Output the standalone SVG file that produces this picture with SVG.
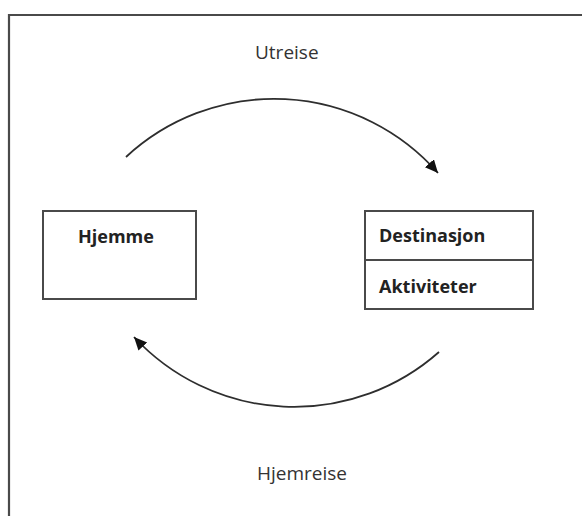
<svg xmlns="http://www.w3.org/2000/svg" width="582" height="516" viewBox="0 0 582 516">
<defs>
<marker id="arrow" markerUnits="userSpaceOnUse" markerWidth="16" markerHeight="14" refX="13" refY="6" orient="auto">
<path d="M0,0 L13,6 L0,12 Z" fill="#111"/>
</marker>
<style>
.frame{fill:none;stroke:#4a4a4a;stroke-width:2.2}
.box{fill:#fff;stroke:#4a4a4a;stroke-width:2}
.bold{font-family:"Open Sans","Liberation Sans",sans-serif;font-weight:bold;font-size:18px;fill:#222}
.lbl{font-family:"Open Sans","Liberation Sans",sans-serif;font-size:19px;fill:#333}
.conn{fill:none;stroke:#2e2e2e;stroke-width:1.8;marker-end:url(#arrow)}
</style>
</defs>
<rect width="582" height="516" fill="#fff"/>
<path class="frame" d="M9,516 L9,15 L582,15"/>
<g id="connectors">
<path id="utreise-arc" class="conn" d="M126,157 A218,218 0 0 1 438,173"/>
<path id="hjemreise-arc" class="conn" d="M439,352 A218.5,218.5 0 0 1 134,337"/>
</g>
<g id="labels">
<text class="lbl" x="255" y="59">Utreise</text>
<text class="lbl" x="257" y="480">Hjemreise</text>
</g>
<g id="hjemme">
<rect class="box" x="43" y="211" width="153" height="88"/>
<text class="bold" x="78" y="243">Hjemme</text>
</g>
<g id="destinasjon">
<rect class="box" x="365" y="211" width="168" height="98"/>
<line x1="365" y1="260" x2="533" y2="260" stroke="#4a4a4a" stroke-width="2"/>
<text class="bold" x="379" y="242">Destinasjon</text>
<text class="bold" x="379" y="293">Aktiviteter</text>
</g>
</svg>
